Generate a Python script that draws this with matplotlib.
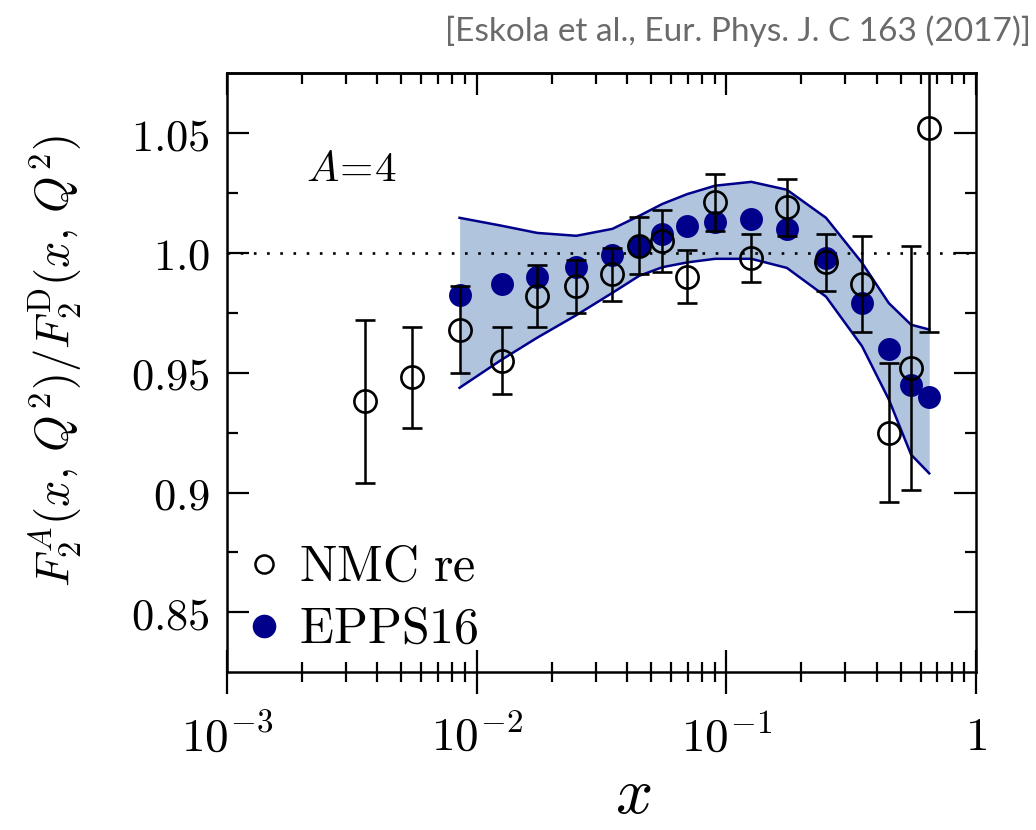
import matplotlib
matplotlib.use("Agg")
from matplotlib import pyplot as plt
from matplotlib.lines import Line2D

plt.rcParams['mathtext.fontset'] = 'cm'
plt.rcParams['font.family'] = ['DejaVu Serif']

# NMC re data (open circles)
x_nmc = [0.00356, 0.0055, 0.00855, 0.0126, 0.0175, 0.0251, 0.035, 0.0448, 0.0555,
         0.0698, 0.0903, 0.126, 0.175, 0.251, 0.35, 0.448, 0.55, 0.65]
y_nmc = [0.938, 0.948, 0.968, 0.955, 0.982, 0.986, 0.991, 1.003, 1.005,
         0.990, 1.021, 0.998, 1.019, 0.996, 0.987, 0.925, 0.952, 1.052]
err_nmc = [0.034, 0.021, 0.018, 0.014, 0.013, 0.011, 0.011, 0.012, 0.013,
           0.011, 0.012, 0.010, 0.012, 0.012, 0.020, 0.029, 0.051, 0.085]

# EPPS16 central values and uncertainty band
x_epps = [0.00855, 0.0126, 0.0175, 0.0251, 0.035, 0.0448, 0.0555, 0.0698,
          0.0903, 0.126, 0.175, 0.251, 0.35, 0.448, 0.55, 0.65]
y_epps = [0.9825, 0.987, 0.990, 0.994, 0.999, 1.003, 1.008, 1.011,
          1.013, 1.014, 1.010, 0.998, 0.979, 0.960, 0.945, 0.940]
band_hi = [1.0146, 1.0113, 1.0083, 1.0071, 1.010, 1.0154, 1.0204, 1.0245,
           1.028, 1.0296, 1.0263, 1.0146, 0.9958, 0.979, 0.970, 0.968]
band_lo = [0.9437, 0.9554, 0.9646, 0.974, 0.9833, 0.9904, 0.994, 0.996,
           0.9975, 0.9975, 0.9937, 0.9817, 0.961, 0.9388, 0.9158, 0.908]

yticks = [0.85, 0.9, 0.95, 1.0, 1.05]
ytick_labels = ['$0.85$', '$0.9$', '$0.95$', '$1.0$', '$1.05$']
xticks = [1e-3, 1e-2, 1e-1, 1]
xtick_labels = ['$10^{-3}$', '$10^{-2}$', '$10^{-1}$', '$1$']

navy = '#00008b'

fig = plt.figure(figsize=(10.36, 8.3), dpi=100)
ax = fig.add_axes([0.219, 0.19, 0.723, 0.722])

ax.fill_between(x_epps, band_lo, band_hi, color='#b0c4de', lw=0, zorder=1)
ax.plot(x_epps, band_hi, color=navy, lw=1.8, zorder=2)
ax.plot(x_epps, band_lo, color=navy, lw=1.8, zorder=2)
ax.axhline(1.0, color='k', ls=(0, (1, 4)), lw=1.9, zorder=3)

ax.plot(x_epps, y_epps, 'o', color=navy, ms=16.5, mec='none', zorder=4)
ax.errorbar(x_nmc, y_nmc, yerr=err_nmc, fmt='o', mfc='none', mec='k', mew=1.9,
            ms=16, ecolor='k', elinewidth=1.8, capsize=7, capthick=1.8, zorder=5)

ax.set_xscale('log')
ax.set_xlim(1e-3, 1)
ax.set_ylim(0.825, 1.075)

ax.set_xticks(xticks, labels=xtick_labels)
ax.set_yticks(yticks, labels=ytick_labels)
ax.set_yticks([0.875, 0.925, 0.975, 1.025], minor=True)

ax.tick_params(axis='x', which='major', direction='inout', length=31, width=1.6,
               labelsize=34, pad=15)
ax.tick_params(axis='x', which='minor', direction='inout', length=14, width=1.6)
ax.tick_params(axis='y', which='major', direction='in', length=16, width=1.6,
               labelsize=32, left=True, right=True, pad=12)
ax.tick_params(axis='y', which='minor', direction='in', length=8, width=1.6,
               left=True, right=True)
for s in ax.spines.values():
    s.set_linewidth(1.8)

top = ax.secondary_xaxis('top')
top.tick_params(axis='x', which='major', direction='in', length=16, width=1.6,
                labeltop=False)
top.tick_params(axis='x', which='minor', direction='in', length=8, width=1.6)
top.set_xticks(xticks)
top.set_xticklabels([])
top.spines['top'].set_linewidth(1.8)

ax.set_ylabel(r'$F_2^A(x,\,Q^2)/F_2^{\rm D}(x,\,Q^2)$', fontsize=33.5)
ax.yaxis.set_label_coords(-0.19, 0.52)
ax.set_xlabel('$x$', fontsize=47)
ax.xaxis.set_label_coords(0.543, -0.152)

ax.text(0.105, 0.82, r'$A\!=\!4$', transform=ax.transAxes, fontsize=31)

handles = [Line2D([], [], marker='o', ls='none', mfc='none', mec='k', mew=1.8, ms=13),
           Line2D([], [], marker='o', ls='none', color=navy, mec='none', ms=17)]
ax.legend(handles, [r'$\rm NMC\ re$', r'$\rm EPPS16$'], loc='lower left',
          bbox_to_anchor=(-0.03, -0.028), frameon=False, fontsize=36,
          handlelength=1.0, handletextpad=0.2, labelspacing=0.25, borderpad=0.2)

fig.text(0.995, 0.962, '[Eskola et al., Eur. Phys. J. C 163 (2017)]',
         ha='right', va='center', fontsize=24, color='#6a6a6a',
         family=['Lato', 'DejaVu Sans'], fontweight='normal')

fig.savefig('out.png', dpi=100)
